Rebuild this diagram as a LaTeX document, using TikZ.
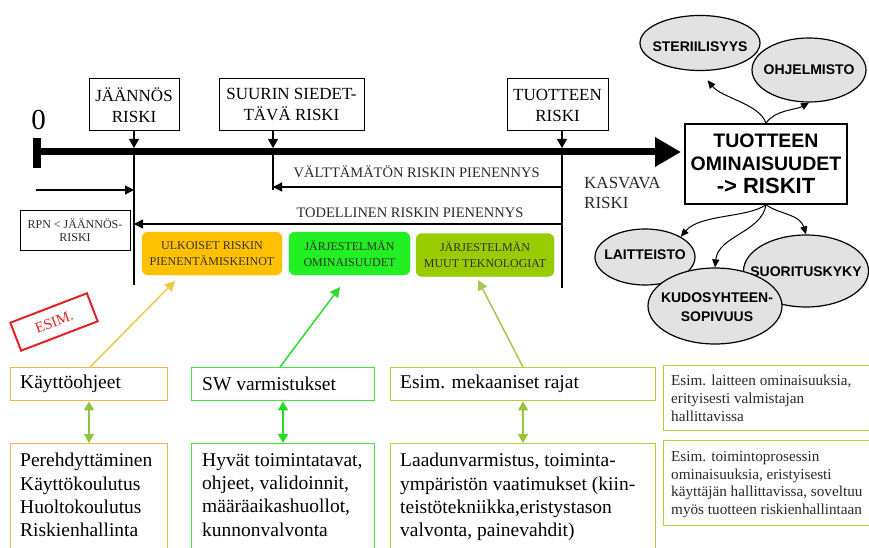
\documentclass[tikz,border=0pt]{standalone}
\usepackage{fontspec}
\setmainfont{Liberation Serif}
\newfontfamily\sansfam{Liberation Sans}
\usetikzlibrary{arrows.meta,shapes.geometric}

\definecolor{orafill}{HTML}{FFC000}
\definecolor{grnfill}{HTML}{22F022}
\definecolor{olifill}{HTML}{99CC00}
\definecolor{oraline}{HTML}{F2B44B}
\definecolor{grnline}{HTML}{3CE63C}
\definecolor{oliline}{HTML}{B2D235}
\definecolor{uparr1}{HTML}{F5C842}
\definecolor{uparr2}{HTML}{30DD30}
\definecolor{uparr3}{HTML}{A8C850}
\definecolor{biarr1}{HTML}{8CC63F}
\definecolor{biarr2}{HTML}{22DD22}
\definecolor{biarr3}{HTML}{99C43A}
\definecolor{ellfill}{HTML}{E2E2E2}
\definecolor{stampred}{HTML}{E02424}
\definecolor{txtgray}{HTML}{2A2A2A}

\tikzset{
  toplabel/.style={draw, line width=1pt, fill=white, align=center, inner sep=0pt,
    font=\fontsize{17}{21}\selectfont},
  thinline/.style={line width=1.3pt},
  tip/.style={-{Triangle[length=9pt,width=9pt]}},
  scaletext/.style={text=txtgray, inner sep=0pt, align=center},
  colbox/.style={rounded corners=6pt, draw=#1, fill=#1, align=center, inner sep=0pt,
    minimum height=43pt, font=\fontsize{12}{16}\selectfont, text=black!80},
  rowbox/.style={draw=#1, line width=1.4pt, fill=white, inner sep=0pt, anchor=north west},
  rowtext/.style={inner sep=0pt, anchor=west, font=\fontsize{19.5}{23.3}\selectfont},
  blocktext/.style={inner sep=0pt, anchor=north west, align=left,
    font=\fontsize{19.5}{23.3}\selectfont},
  notetext/.style={inner sep=0pt, anchor=north west, align=left,
    font=\fontsize{15.2}{17.8}\selectfont, text=txtgray},
  ell/.style={ellipse, draw, line width=1.2pt, fill=ellfill, inner sep=0pt},
  elltext/.style={inner sep=0pt, align=center, font=\sansfam\bfseries\fontsize{14}{19}\selectfont},
  curvearrow/.style={line width=1pt, -{Triangle[length=8pt,width=7pt]}},
  bi/.style={line width=1.6pt, draw=#1, {Triangle[length=9pt,width=10pt]}-{Triangle[length=9pt,width=10pt]}},
  up/.style={line width=1.5pt, draw=#1, fill=#1, -{Triangle[length=10pt,width=10pt]}},
}

\begin{document}
\begin{tikzpicture}[x=1pt,y=-1pt]
\clip (0,0) rectangle (869,548);
\fill[white] (0,0) rectangle (869,548);

% ---------- risk scale ----------
\node[inner sep=0pt, font=\fontsize{29}{29}\selectfont] (zero) at (38.5,120) {0};
\coordinate (a0) at (37,152);
\coordinate (a1) at (681,152);
\coordinate (barTop) at (37,138);
\coordinate (barBot) at (37,168);
\draw[line width=7pt, -{Triangle[length=26pt,width=28pt]}] (a0) -- (a1);
\draw[line width=8pt] (barTop) -- (barBot);

\node[toplabel, minimum width=90pt, minimum height=52pt] (jr) at (134,105) {JÄÄNNÖS\\RISKI};
\node[toplabel, minimum width=145pt, minimum height=52pt] (sr) at (291.5,105) {SUURIN SIEDET-\\TÄVÄ RISKI};
\node[toplabel, minimum width=101pt, minimum height=52pt] (tr) at (557.5,105) {TUOTTEEN\\RISKI};

\coordinate (pj) at (134,148);
\coordinate (ps) at (273,148);
\coordinate (pt) at (562,148);
\draw[thinline, -{Triangle[length=9pt,width=10pt]}] (jr.south) -- (pj);
\draw[thinline, -{Triangle[length=9pt,width=10pt]}] (ps |- sr.south) -- (ps);
\draw[thinline, -{Triangle[length=9pt,width=10pt]}] (pt |- tr.south) -- (pt);

% vertical markers below the scale
\coordinate (vjTop) at (134,152);  \coordinate (vjBot) at (134,285);
\coordinate (vsTop) at (273,152);  \coordinate (vsBot) at (273,190);
\coordinate (vtTop) at (562,152);  \coordinate (vtBot) at (562,288);
\draw[thinline] (vjTop) -- (vjBot);
\draw[thinline] (vsTop) -- (vsBot);
\draw[thinline] (vtTop) -- (vtBot);

% reduction arrows
\coordinate (r1s) at (562,187);  \coordinate (r1e) at (273,187);
\coordinate (r2s) at (562,224);  \coordinate (r2e) at (134,224);
\coordinate (r3s) at (36,190);   \coordinate (r3e) at (134,190);
\draw[thinline, tip] (r1s) -- (r1e);
\draw[thinline, tip] (r2s) -- (r2e);
\draw[thinline, tip] (r3s) -- (r3e);

\node[scaletext, font=\fontsize{14.5}{16}\selectfont] (vrp) at (416.7,171.5) {VÄLTTÄMÄTÖN RISKIN PIENENNYS};
\node[scaletext, font=\fontsize{14.5}{16}\selectfont] (trp) at (410,213) {TODELLINEN RISKIN PIENENNYS};
\node[scaletext, anchor=west, align=left, font=\fontsize{17}{20}\selectfont] (kasv) at (584,193) {KASVAVA\\RISKI};

\node[draw, line width=1pt, minimum width=110pt, minimum height=40pt, align=center, inner sep=0pt,
  font=\fontsize{12}{13.5}\selectfont, text=txtgray] (rpn) at (75,230) {RPN < JÄÄNNÖS-\\RISKI};

% ---------- risk control categories ----------
\node[colbox=orafill, minimum width=140pt] (ulk) at (212,253.5) {ULKOISET RISKIN\\PIENENTÄMISKEINOT};
\node[colbox=grnfill, minimum width=121pt] (jom) at (349.5,253.5) {JÄRJESTELMÄN\\OMINAISUUDET};
\node[colbox=olifill, minimum width=138pt] (jmt) at (485,255) {JÄRJESTELMÄN\\MUUT TEKNOLOGIAT};

% ---------- product properties ----------
\node[draw, line width=1.3pt, minimum width=162pt, minimum height=80pt, align=center, inner sep=0pt,
  font=\sansfam\bfseries\fontsize{19.5}{23}\selectfont] (big) at (766,164)
  {TUOTTEEN\\OMINAISUUDET\\{\fontsize{22}{23}\selectfont -> RISKIT}};

\node[ell, minimum width=120pt, minimum height=55pt] (ster) at (700,43) {};
\node[elltext] (sterT) at (700,47) {STERIILISYYS};
\node[ell, minimum width=114pt, minimum height=64pt] (ohj) at (809,70) {};
\node[elltext] (ohjT) at (809,70) {OHJELMISTO};

\node[ell, minimum width=100pt, minimum height=56pt] (lait) at (645,257) {};
\node[elltext] (laitT) at (645,255) {LAITTEISTO};
\node[ell, minimum width=125pt, minimum height=72pt] (suor) at (806,271) {};
\node[elltext] (suorT) at (806,272) {SUORITUSKYKY};
\node[ell, minimum width=134pt, minimum height=76pt] (kud) at (715,306) {};
\node[elltext] (kudT) at (717,307) {KUDOSYHTEEN-\\SOPIVUUS};

\draw[curvearrow, shorten >=12pt] (big.north) .. controls (760,104) and (722,98) .. (ster.south);
\draw[curvearrow] (big.north) .. controls (774,110) and (796,110) .. (ohj.south);
\draw[curvearrow] (big.south) .. controls (748,218) and (700,214) .. (lait.north east);
\draw[curvearrow] (big.south) .. controls (762,232) and (718,236) .. (kud.north);
\draw[curvearrow] (big.south) .. controls (778,214) and (800,214) .. (suor.north);

% ---------- stamp ----------
\node[draw=stampred, line width=2pt, rotate=21, minimum width=82pt, minimum height=30pt,
  inner sep=0pt, text=stampred, font=\fontsize{15}{15}\selectfont] (esim) at (54,322) {ESIM.};

% ---------- examples ----------
\node[rowbox=oraline, minimum width=157pt, minimum height=33pt] (k1) at (10,367) {};
\node[rowbox=grnline, minimum width=183pt, minimum height=33pt] (k2) at (191,367) {};
\node[rowbox=oliline, minimum width=265pt, minimum height=33pt] (k3) at (390,367) {};
\node[rowtext] (k1T) at (20,384) {Käyttöohjeet};
\node[rowtext] (k2T) at (202,384) {SW varmistukset};
\node[rowtext] (k3T) at (400,384) {Esim. mekaaniset rajat};

\node[rowbox=oraline, minimum width=157pt, minimum height=130pt] (m1) at (10,443) {};
\node[rowbox=grnline, minimum width=183pt, minimum height=130pt] (m2) at (191,443) {};
\node[rowbox=oliline, minimum width=265pt, minimum height=130pt] (m3) at (390,443) {};
\node[blocktext] (m1T) at (20,453) {Perehdyttäminen\\Käyttökoulutus\\Huoltokoulutus\\Riskienhallinta};
\node[blocktext] (m2T) at (202,453) {Hyvät toimintatavat,\\ohjeet, validoinnit,\\määräaikashuollot,\\kunnonvalvonta};
\node[blocktext] (m3T) at (400,453) {Laadunvarmistus, toiminta-\\ympäristön vaatimukset (kiin-\\teistötekniikka,eristystason\\valvonta, painevahdit)};

\node[rowbox=oliline, minimum width=206pt, minimum height=65pt] (n1) at (663,365) {};
\node[rowbox=oliline, minimum width=206pt, minimum height=85pt] (n2) at (663,440) {};
\node[notetext] (n1T) at (671,375) {Esim. laitteen ominaisuuksia,\\erityisesti valmistajan\\hallittavissa};
\node[notetext] (n2T) at (671,451) {Esim. toimintoprosessin\\ominaisuuksia, eristyisesti\\käyttäjän hallittavissa, soveltuu\\myös tuotteen riskienhallintaan};

% links between examples and categories
\draw[up=uparr1] (90,367) -- (175,281);
\draw[up=uparr2] (280,367) -- (340,287);
\draw[up=uparr3] (523,367) -- (478,280);

\draw[bi=biarr1] (k1.south -| 89,0) -- (m1.north -| 89,0);
\draw[bi=biarr2] (k2.south -| 283,0) -- (m2.north -| 283,0);
\draw[bi=biarr3] (k3.south -| 523,0) -- (m3.north -| 523,0);
\end{tikzpicture}
\end{document}
